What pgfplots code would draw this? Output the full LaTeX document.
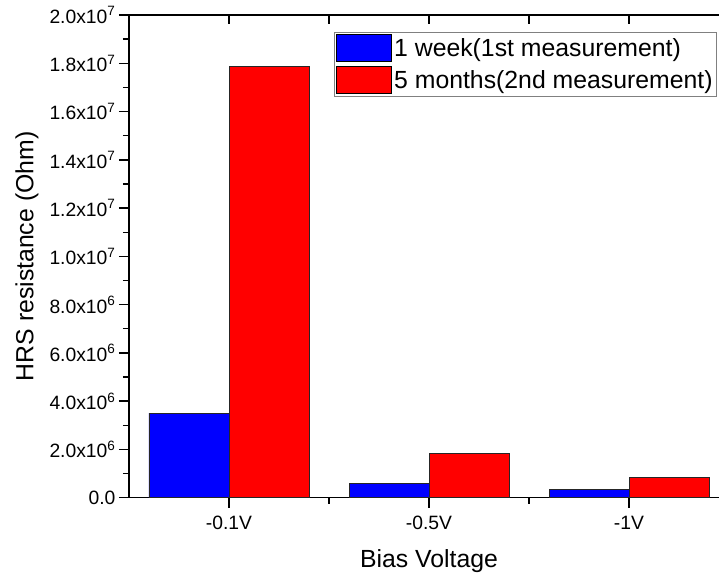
\documentclass[border=0pt]{standalone}
\usepackage{fontspec}
\setmainfont{Liberation Sans}
\usepackage{pgfplots}
\pgfplotsset{compat=1.18}
\definecolor{barblue}{RGB}{0,0,255}
\definecolor{barred}{RGB}{255,0,0}
\pgfplotsset{mybarleg/.style={legend image code/.code={\draw[##1,draw=black,line width=0.8pt] (0pt,-13.5pt) rectangle (55pt,13.5pt);}}}
\begin{document}
\begin{tikzpicture}
\begin{axis}[name=main,
  scale only axis, width=600pt, height=482.7pt,
  xmin=-0.5, xmax=2.5, ymin=0, ymax=2e7,
  ybar, bar width=80pt,
  axis line style={line width=1.4pt},
  every tick/.style={line width=1.4pt, black},
  tick align=outside,
  major tick length=10pt, minor tick length=6pt,
  xtick pos=left, ytick pos=left,
  xtick={0,1,2}, xticklabels={-0.1V,-0.5V,-1V},
  minor xtick={0.5,1.5},
  ytick={0,2000000,4000000,6000000,8000000,10000000,12000000,14000000,16000000,18000000,20000000},
  minor ytick={1000000,3000000,5000000,7000000,9000000,11000000,13000000,15000000,17000000,19000000},
  yticklabels={0.0,2.0x10\textsuperscript{6},4.0x10\textsuperscript{6},6.0x10\textsuperscript{6},8.0x10\textsuperscript{6},1.0x10\textsuperscript{7},1.2x10\textsuperscript{7},1.4x10\textsuperscript{7},1.6x10\textsuperscript{7},1.8x10\textsuperscript{7},2.0x10\textsuperscript{7}},
  scaled y ticks=false,
  tick label style={font=\fontsize{19.3}{22}\selectfont},
  xticklabel style={yshift=-5pt},
  xlabel={Bias Voltage}, ylabel={HRS resistance (Ohm)},
  every axis x label/.style={at={(rel axis cs:0.5,0)}, anchor=base, yshift=-70pt, font=\fontsize{24.8}{29}\selectfont},
  every axis y label/.style={at={(rel axis cs:-0.17,0.5)}, anchor=center, rotate=90, font=\fontsize{24.8}{29}\selectfont},
  legend style={at={(rel axis cs:1,1)}, anchor=north east, xshift=-12pt, yshift=-17pt,
    font=\fontsize{24.8}{29}\selectfont, draw=gray, line width=0.8pt, inner sep=2pt, row sep=4pt,
    /tikz/every even column/.append style={column sep=7pt}},
  legend cell align=left,
]
\addplot[fill=barblue, draw=black!85, line width=0.8pt, bar shift=-40pt, mybarleg] coordinates {(0,3500000) (1,600000) (2,360000)};
\addplot[fill=barred, draw=black!85, line width=0.8pt, bar shift=40pt, mybarleg] coordinates {(0,17860000) (1,1840000) (2,845000)};
\legend{1 week(1st measurement),5 months(2nd measurement)}
\end{axis}
\begin{axis}[at={(main.south west)}, anchor=south west,
  scale only axis, width=600pt, height=482.7pt,
  xmin=-0.5, xmax=2.5, ymin=0, ymax=1,
  axis x line*=top, hide y axis,
  axis line style={line width=1.4pt},
  every tick/.style={line width=1.4pt, black},
  tick align=inside, major tick length=9pt,
  xtick={0,0.5,1,1.5,2}, xticklabels={}]
\addplot[draw=none] coordinates {(0,0.5)};
\end{axis}
\pgfresetboundingbox
\path ([shift={(-129pt,-79.3pt)}]main.south west) rectangle ([shift={(-10pt,15pt)}]main.north east);
\end{tikzpicture}
\end{document}
